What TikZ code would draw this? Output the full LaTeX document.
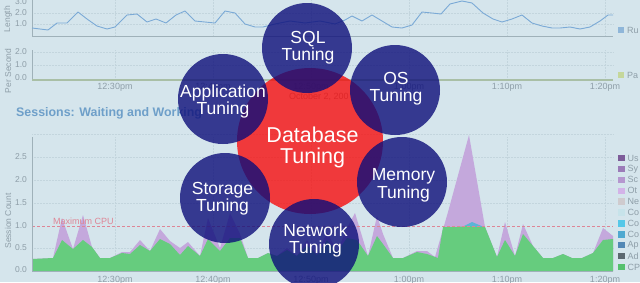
\documentclass[tikz,border=0pt]{standalone}
\usepackage{fontspec}
\setmainfont{Liberation Sans}
\definecolor{bgc}{HTML}{D5E5EC}
\definecolor{gridc}{HTML}{C3D5DD}
\definecolor{axc}{HTML}{9FB1B9}
\definecolor{paxc}{HTML}{A9BFA6}
\definecolor{tickc}{HTML}{8E9EA8}
\definecolor{linec}{HTML}{7BAAD6}
\definecolor{ttlc}{HTML}{6E9FC9}
\definecolor{greenc}{HTML}{66CC7E}
\definecolor{purc}{HTML}{C4A8DC}
\definecolor{cyanc}{HTML}{5BB5D8}
\definecolor{maxc}{HTML}{DE8696}
\definecolor{bluefill}{RGB}{13,14,122}
\definecolor{redfill}{RGB}{250,0,0}
\definecolor{lRu}{HTML}{8FB6D9}
\definecolor{lPa}{HTML}{C5D79B}
\definecolor{lUs}{HTML}{7D5C99}
\definecolor{lSy}{HTML}{9B7BB8}
\definecolor{lSc}{HTML}{B597CF}
\definecolor{lOt}{HTML}{D3B3E8}
\definecolor{lNe}{HTML}{CFCBCE}
\definecolor{lCa}{HTML}{C7E3EA}
\definecolor{lCb}{HTML}{55C8E8}
\definecolor{lCc}{HTML}{4FA9D0}
\definecolor{lAp}{HTML}{5288B5}
\definecolor{lAd}{HTML}{5B6870}
\definecolor{lCP}{HTML}{55C16E}
\tikzset{
  ticklbl/.style={font=\fontsize{8.5}{10}\selectfont, text=tickc, inner sep=0pt},
  leg/.style={font=\fontsize{9}{10}\selectfont, text=tickc, inner sep=0pt, anchor=west},
  ttl/.style={font=\bfseries\fontsize{12.4}{14}\selectfont, text=ttlc, inner sep=0pt, anchor=west},
  gridln/.style={gridc, densely dotted, line width=0.5pt},
  axln/.style={axc, line width=0.8pt},
  bluec/.style={circle, fill=bluefill, fill opacity=0.8, minimum size=90pt, inner sep=0pt},
  redc/.style={circle, fill=redfill, fill opacity=0.75, minimum size=146pt, inner sep=0pt},
  lbl/.style={text=white, align=center, font=\fontsize{17.5}{17.5}\selectfont, inner sep=0pt},
  dblbl/.style={text=white, align=center, font=\fontsize{21.5}{21}\selectfont, inner sep=0pt},
}
\begin{document}
\begin{tikzpicture}[x=1pt,y=-1pt]
\useasboundingbox (0,0) rectangle (640,282);
\clip (0,0) rectangle (640,282);
\fill[bgc] (0,0) rectangle (640,282);

% ---------- grids ----------
\foreach \x in {115,213,311,409,507,605} {
  \draw[gridln] (\x,0) -- (\x,36);
  \draw[gridln] (\x,50) -- (\x,80);
  \draw[gridln] (\x,137) -- (\x,271);
}
\foreach \y in {13,24,52,65,134,157,180,203,248} \draw[gridln] (32,\y) -- (613,\y);

% ---------- top chart ----------
\draw[axln] (32,0) -- (32,36) -- (613,36);
\draw[linec, line width=0.9pt, line join=round] plot coordinates {(32,28) (40,29) (48,30) (57,23) (67,23) (78,12) (87,19) (97,26) (107,29) (115,27) (127,15) (137,14) (147,22) (156,19) (166,23) (176,15) (185,11) (195,21) (205,22) (215,23) (225,11) (235,13) (245,24) (255,27) (263,27) (275,24) (290,21) (305,23) (320,21) (335,24) (345,20) (352,16) (362,21) (372,15) (382,21) (392,27) (402,28) (412,25) (422,12) (432,13) (441,14) (450,4) (462,1) (472,3) (483,13) (493,19) (502,22) (512,19) (522,15) (532,23) (542,26) (552,28) (560,28) (570,27) (580,29) (590,27) (600,21) (608,15) (613,15)};
\node[ticklbl] (t30) at (21,2) {3.0};
\node[ticklbl] (t20) at (21,13) {2.0};
\node[ticklbl] (t10) at (21,24) {1.0};
\node[ticklbl, rotate=90] (ylen) at (8,19) {Length};
\fill[lRu] (618,27) rectangle (624,33);
\node[leg] (lgru) at (627,30) {Ru};

% ---------- second chart ----------
\draw[axln] (32,50) -- (32,80);
\draw[paxc, line width=1.2pt] (32,80) -- (613,80);
\node[ticklbl] (s20) at (21,52) {2.0};
\node[ticklbl] (s10) at (21,65) {1.0};
\node[ticklbl] (s00) at (21,78) {0.0};
\node[ticklbl, rotate=90] (yps) at (8,71) {Per Second};
\fill[lPa] (618,72) rectangle (624,78);
\node[leg] (lgpa) at (627,75) {Pa};
\node[ticklbl, font=\fontsize{9}{10}\selectfont] (xa1) at (115,87) {12:30pm};
\node[ticklbl, font=\fontsize{9}{10}\selectfont] (xa2) at (213,87) {12:40pm};
\node[ticklbl, font=\fontsize{9}{10}\selectfont] (xa3) at (311,87) {12:50pm};
\node[ticklbl, font=\fontsize{9}{10}\selectfont] (xa4) at (409,87) {1:00pm};
\node[ticklbl, font=\fontsize{9}{10}\selectfont] (xa5) at (507,87) {1:10pm};
\node[ticklbl, font=\fontsize{9}{10}\selectfont] (xa6) at (605,87) {1:20pm};
\node[ticklbl, font=\fontsize{9}{10}\selectfont, anchor=west] (date) at (289,97) {October 2, 200};

% ---------- title ----------
\node[ttl] (title) at (16,113) {Sessions: Waiting and Working};

% ---------- bottom chart ----------
\fill[purc] (32,271) -- plot coordinates {(32,259) (53,258) (62,218) (73,249) (83,215) (92,247) (100,258) (110,258) (122,252) (130,252) (140,240) (150,251) (160,229) (170,241) (180,248) (188,242) (200,256) (208,218) (220,248) (230,213) (240,234) (248,258) (258,258) (268,253) (277,256) (287,248) (297,256) (307,240) (317,255) (327,232) (337,252) (347,228) (355,213) (368,256) (377,216) (383,234) (393,258) (403,258) (417,251) (427,251) (435,257) (448,212) (469,135) (485,227) (497,257) (505,222) (515,256) (523,224) (533,246) (543,258) (553,258) (563,254) (572,258) (582,258) (593,253) (603,228) (613,236)} -- (613,271) -- cycle;
\fill[cyanc] (462,227) -- (472,222) -- (484,227) -- cycle;
\fill[greenc] (32,271) -- plot coordinates {(32,259) (53,258) (62,240) (73,249) (83,240) (92,247) (100,258) (110,258) (122,253) (130,254) (140,245) (150,251) (160,239) (170,244) (180,255) (188,246) (200,256) (208,239) (220,251) (230,238) (240,238) (248,258) (258,258) (268,253) (277,256) (287,250) (297,256) (307,245) (317,255) (327,240) (337,252) (347,238) (357,240) (368,256) (377,236) (383,244) (393,258) (403,258) (417,252) (427,254) (438,258) (443,227) (457,227) (467,226) (475,227) (485,227) (497,257) (505,240) (515,256) (523,234) (533,246) (543,258) (553,258) (563,254) (572,258) (582,258) (593,253) (603,240) (613,239)} -- (613,271) -- cycle;
\draw[maxc, dash pattern=on 3pt off 2pt, line width=0.6pt] (32,226) -- (613,226);
\node[ticklbl, text=maxc, font=\fontsize{9}{10}\selectfont, anchor=west] (maxlbl) at (53,221) {Maximum CPU};
\draw[axln] (32,137) -- (32,271) -- (613,271);
\node[ticklbl] (b25) at (21,157) {2.5};
\node[ticklbl] (b20) at (21,180) {2.0};
\node[ticklbl] (b15) at (21,203) {1.5};
\node[ticklbl] (b10) at (21,226) {1.0};
\node[ticklbl] (b05) at (21,248) {0.5};
\node[ticklbl] (b00) at (21,270) {0.0};
\node[ticklbl, rotate=90] (ysc) at (8,221) {Session Count};
\node[ticklbl, font=\fontsize{9}{10}\selectfont] (xb1) at (115,280) {12:30pm};
\node[ticklbl, font=\fontsize{9}{10}\selectfont] (xb2) at (213,280) {12:40pm};
\node[ticklbl, font=\fontsize{9}{10}\selectfont] (xb3) at (311,280) {12:50pm};
\node[ticklbl, font=\fontsize{9}{10}\selectfont] (xb4) at (409,280) {1:00pm};
\node[ticklbl, font=\fontsize{9}{10}\selectfont] (xb5) at (507,280) {1:10pm};
\node[ticklbl, font=\fontsize{9}{10}\selectfont] (xb6) at (605,280) {1:20pm};
\foreach \c/\t [count=\i from 0] in {lUs/Us, lSy/Sy, lSc/Sc, lOt/Ot, lNe/Ne, lCa/Co, lCb/Co, lCc/Co, lAp/Ap, lAd/Ad, lCP/CP} {
  \pgfmathsetmacro{\yy}{158+10.9*\i}
  \fill[\c] (618,\yy-3.2) rectangle (624.5,\yy+3.2);
  \node[leg] (lg\i) at (627.5,\yy) {\t};
}

% ---------- circles ----------
\node[redc] (db) at (310,141) {};
\node[bluec] (sql) at (307,48) {};
\node[bluec] (app) at (223,99) {};
\node[bluec] (os) at (395,90) {};
\node[bluec] (mem) at (402,182) {};
\node[bluec] (net) at (314,244) {};
\node[bluec] (sto) at (225,198) {};

\node[dblbl] (dbt) at (312.5,147.2) {Database\\Tuning};
\node[lbl] (sqlt) at (308,47.6) {SQL\\Tuning};
\node[lbl] (appt) at (223,101.6) {Application\\Tuning};
\node[lbl] (ost) at (396,88.8) {OS\\Tuning};
\node[lbl] (memt) at (403.5,185.3) {Memory\\Tuning};
\node[lbl] (nett) at (315.5,240.4) {Network\\Tuning};
\node[lbl] (stot) at (222.5,198.9) {Storage\\Tuning};
\end{tikzpicture}
\end{document}
